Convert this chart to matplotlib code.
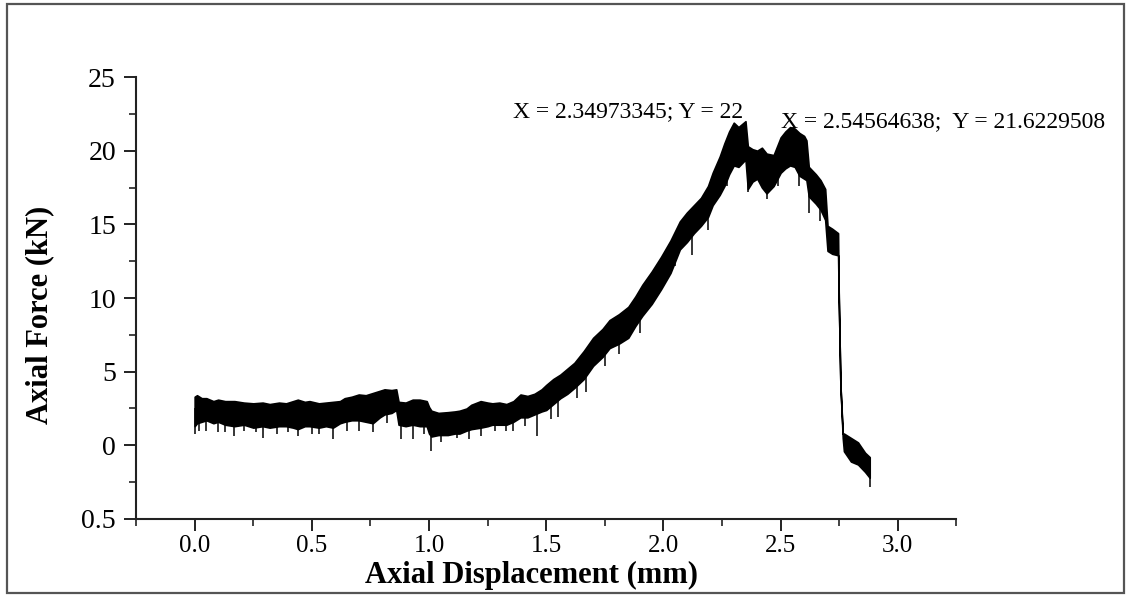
import matplotlib
matplotlib.use("Agg")
import matplotlib.pyplot as plt
from matplotlib.patches import Rectangle
from matplotlib.ticker import MultipleLocator

# axial displacement (mm) with the upper / lower edge of the noisy force band (kN)
disp = [0.00, 0.01, 0.03, 0.05, 0.08, 0.10, 0.13, 0.17, 0.21, 0.25, 0.29, 0.32,
        0.36, 0.39, 0.42, 0.44, 0.47, 0.49, 0.53, 0.56, 0.59, 0.62, 0.64, 0.67,
        0.70, 0.73, 0.76, 0.79, 0.81, 0.84, 0.86, 0.87, 0.90, 0.93, 0.96, 0.99,
        1.00, 1.01, 1.04, 1.08, 1.11, 1.13, 1.16, 1.18, 1.22, 1.25, 1.27, 1.30,
        1.33, 1.36, 1.39, 1.42, 1.45, 1.48, 1.50, 1.53, 1.56, 1.59, 1.62, 1.66,
        1.70, 1.74, 1.77, 1.81, 1.85, 1.88, 1.91, 1.95, 1.99, 2.03, 2.07, 2.10,
        2.13, 2.16, 2.19, 2.21, 2.24, 2.26, 2.28, 2.30, 2.32, 2.35, 2.36, 2.38,
        2.40, 2.42, 2.44, 2.47, 2.50, 2.52, 2.54, 2.56, 2.58, 2.60, 2.61, 2.62,
        2.65, 2.67, 2.69, 2.70, 2.72, 2.745, 2.748, 2.755, 2.765, 2.77, 2.80,
        2.83, 2.86, 2.88]
force_upper = [3.3, 3.4, 3.2, 3.2, 3.0, 3.1, 3.0, 3.0, 2.9, 2.85, 2.9, 2.8,
               2.9, 2.85, 3.0, 3.1, 2.95, 3.0, 2.85, 2.9, 2.95, 3.0, 3.2, 3.3,
               3.45, 3.4, 3.55, 3.7, 3.8, 3.75, 3.8, 2.95, 2.9, 3.1, 3.1, 3.0,
               2.6, 2.35, 2.2, 2.25, 2.3, 2.35, 2.5, 2.75, 3.0, 2.9, 2.85, 2.9,
               2.8, 3.0, 3.45, 3.35, 3.5, 3.8, 4.1, 4.5, 4.8, 5.2, 5.6, 6.4,
               7.3, 7.9, 8.5, 8.9, 9.4, 10.1, 10.9, 11.8, 12.8, 13.9, 15.2, 15.8,
               16.3, 16.8, 17.6, 18.5, 19.6, 20.5, 21.3, 21.9, 21.6, 22.0, 20.3, 20.1,
               20.0, 20.2, 19.8, 19.7, 20.9, 21.3, 21.6, 21.5, 21.2, 21.0, 20.7, 18.9,
               18.4, 18.0, 17.4, 14.9, 14.7, 14.4, 10.0, 4.1, 0.8, 0.8, 0.5,
               0.2, -0.5, -0.8]
force_lower = [1.3, 1.5, 1.6, 1.7, 1.5, 1.6, 1.4, 1.3, 1.4, 1.2, 1.3, 1.2,
               1.3, 1.3, 1.2, 1.1, 1.3, 1.3, 1.2, 1.3, 1.2, 1.5, 1.6, 1.7,
               1.7, 1.6, 1.5, 1.9, 2.1, 2.2, 2.4, 1.4, 1.3, 1.4, 1.3, 1.3,
               0.8, 0.6, 0.7, 0.7, 0.8, 0.8, 1.0, 1.1, 1.2, 1.3, 1.4, 1.4,
               1.4, 1.6, 1.9, 1.9, 2.1, 2.3, 2.4, 2.8, 3.2, 3.5, 3.9, 4.5,
               5.4, 6.0, 6.6, 6.9, 7.3, 8.1, 8.8, 9.6, 10.6, 11.7, 13.3, 13.8,
               14.4, 14.9, 15.5, 16.3, 17.0, 17.6, 18.4, 19.0, 18.9, 19.4, 17.4, 17.9,
               18.1, 17.5, 17.1, 17.6, 18.5, 18.8, 19.0, 18.9, 18.3, 18.1, 18.0, 16.9,
               16.4, 16.0, 15.3, 13.2, 13.0, 12.9, 10.0, 4.1, 0.5, -0.4, -1.1,
               -1.3, -1.8, -2.2]

# single-sample dips below the band
spike_disp = [0.00, 0.02, 0.05, 0.10, 0.13, 0.17, 0.21, 0.26, 0.29, 0.35, 0.40,
              0.44, 0.50, 0.53, 0.59, 0.65, 0.70, 0.76, 0.82, 0.88, 0.93, 0.98,
              1.01, 1.05, 1.12, 1.17, 1.22, 1.28, 1.33, 1.36, 1.41, 1.46, 1.52,
              1.55, 1.63, 1.67, 1.75, 1.81, 1.90, 1.97, 2.05, 2.12, 2.19, 2.27,
              2.36, 2.44, 2.49, 2.58, 2.62, 2.67, 2.88]
spike_low = [0.75, 1.0, 1.0, 0.9, 0.9, 0.6, 1.0, 0.9, 0.5, 0.8, 0.9,
             0.6, 0.8, 0.8, 0.4, 1.0, 1.0, 0.9, 1.5, 0.4, 0.4, 0.8,
             -0.4, 0.2, 0.5, 0.4, 0.6, 1.0, 1.0, 1.0, 1.3, 0.6, 1.8,
             1.9, 3.2, 3.6, 5.4, 6.2, 7.6, 10.0, 12.2, 12.9, 14.6, 17.6,
             17.2, 16.7, 17.6, 17.6, 15.8, 15.2, -2.8]
spike_top = [2.5, 2.5, 2.5, 2.5, 2.4, 2.4, 2.4, 2.3, 2.3, 2.3, 2.3,
             2.3, 2.3, 2.3, 2.3, 2.6, 2.7, 2.7, 3.0, 2.4, 2.4, 2.4,
             1.8, 1.8, 1.8, 2.0, 2.3, 2.3, 2.3, 2.5, 2.7, 3.0, 3.5,
             3.8, 5.0, 5.5, 7.0, 8.0, 9.5, 11.5, 14.0, 15.5, 16.5, 19.5,
             19.0, 18.5, 19.5, 19.5, 17.5, 16.5, -1.5]

peak_labels = ["X = 2.34973345; Y = 22", "X = 2.54564638;  Y = 21.6229508"]
peak_label_pos = [(1.36, 22.3), (2.50, 21.6)]

x_ticks = [0.0, 0.5, 1.0, 1.5, 2.0, 2.5, 3.0]
x_ticklabels = ["0.0", "0.5", "1.0", "1.5", "2.0", "2.5", "3.0"]
y_ticks = [-5, 0, 5, 10, 15, 20, 25]
y_ticklabels = ["0.5", "0", "5", "10", "15", "20", "25"]

plt.rcParams["font.family"] = ["Liberation Serif", "DejaVu Serif"]

fig = plt.figure(figsize=(11.3, 5.96), dpi=100)
ax = fig.add_axes([0.1204, 0.1292, 0.726, 0.7416])

ax.fill_between(disp, force_lower, force_upper, color="black", lw=1.2,
                edgecolor="black")
ax.vlines(spike_disp, spike_low, spike_top, color="black", lw=1.1)

for txt, (px, py) in zip(peak_labels, peak_label_pos):
    ax.text(px, py, txt, fontsize=17, ha="left", va="baseline", color="black")

ax.set_xlim(-0.25, 3.25)
ax.set_ylim(-5, 25)
ax.set_xticks(x_ticks, x_ticklabels)
ax.set_yticks(y_ticks, y_ticklabels)
ax.xaxis.set_minor_locator(MultipleLocator(0.25))
ax.yaxis.set_minor_locator(MultipleLocator(2.5))
ax.tick_params(which="major", direction="out", length=8.5, width=1.4,
               labelsize=20, color="#222222")
ax.tick_params(which="minor", direction="out", length=5, width=1.2,
               color="#222222")
ax.tick_params(axis="y", which="major", pad=6)
ax.tick_params(axis="x", which="major", labelsize=18, pad=3)

for side in ("top", "right"):
    ax.spines[side].set_visible(False)
for side in ("left", "bottom"):
    ax.spines[side].set_linewidth(1.5)
    ax.spines[side].set_color("#222222")

ax.set_xlabel("Axial Displacement (mm)", fontsize=22, fontweight="bold",
              va="center")
ax.xaxis.set_label_coords(0.482, -0.128)
ax.set_ylabel("Axial Force (kN)", fontsize=22, fontweight="bold", va="center")
ax.yaxis.set_label_coords(-0.117, 0.4615)

# thin border round the whole figure
fig.patches.append(Rectangle((0.0062, 0.005), 0.9885, 0.9883,
                             transform=fig.transFigure, fill=False,
                             edgecolor="#555555", lw=1.6))

fig.savefig("out.png", dpi=100, facecolor="white")
